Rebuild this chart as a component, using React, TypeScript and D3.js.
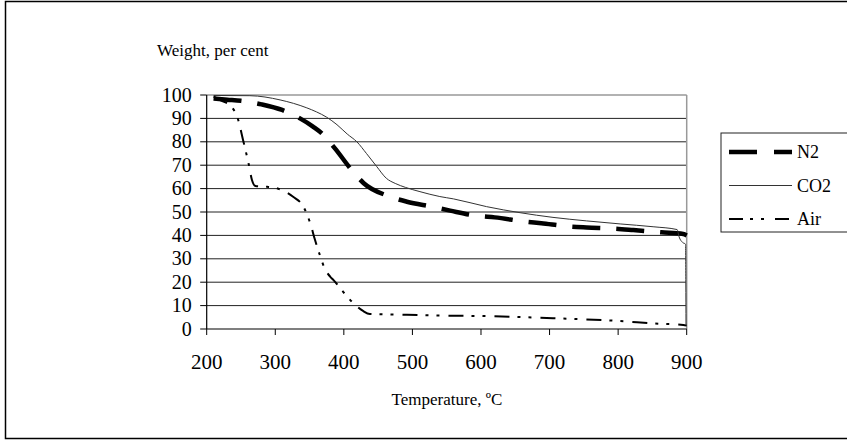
import React from "react";
import * as d3 from "d3";

const xTicks = [200, 300, 400, 500, 600, 700, 800, 900];
const yTicks = [0, 10, 20, 30, 40, 50, 60, 70, 80, 90, 100];

const n2Temp = [210, 230, 250, 280, 310, 336, 355, 368, 387, 411, 429, 465, 492, 530, 555, 596, 620, 662, 688, 730, 754, 795, 822, 863, 895, 900];
const n2Weight = [98.5, 98, 97.5, 96, 93.6, 90, 86.5, 83.6, 77.2, 68.1, 62.3, 56.8, 54.4, 52.2, 50.6, 48.3, 47.7, 46, 45.2, 43.8, 43.4, 42.9, 42.3, 41.3, 40.6, 40];

const co2Temp = [210, 263, 307, 346, 360, 375, 390, 405, 419, 433, 448, 462, 475, 490, 511, 540, 560, 608, 657, 705, 754, 803, 851, 886, 889, 894, 898.4, 898.7, 899];
const co2Weight = [99.8, 99.7, 97.9, 94.5, 92.8, 90.5, 87.3, 83.3, 80, 75, 69.4, 64.4, 62.2, 60.5, 58.7, 56.6, 55.6, 52.3, 49.7, 47.7, 46.2, 44.9, 43.7, 42.5, 39.3, 37, 36.2, 20, 2];

const airTemp = [210, 219, 236, 246, 253, 261, 266, 271, 288, 307, 326, 341, 351, 358, 365, 372, 380, 385, 399, 414, 428, 438, 492, 530, 608, 705, 803, 851, 895, 900];
const airWeight = [99.3, 97.9, 95, 89.3, 80.8, 70.8, 63.7, 61.1, 60.8, 59.7, 56.5, 52.3, 45.2, 38, 31.6, 25.9, 22.4, 20.9, 15.9, 11, 7.7, 6.4, 6.1, 5.8, 5.5, 4.6, 3.4, 2.4, 1.7, 1.5];

const seriesNames = ["N2", "CO2", "Air"];

const W = 847;
const H = 440;
const left = 206.7;
const right = 686.7;
const top = 95;
const bottom = 329;

export default function App() {
  const x = d3.scaleLinear().domain([200, 900]).range([left, right]);
  const y = d3.scaleLinear().domain([0, 100]).range([bottom, top]);
  const line = d3
    .line<[number, number]>()
    .x((d) => x(d[0]))
    .y((d) => y(d[1]))
    .curve(d3.curveMonotoneX);
  const zip = (a: number[], b: number[]) => a.map((v, i) => [v, b[i]] as [number, number]);

  const styles = [
    { stroke: "#000", width: 4.5, dash: "28 16" },
    { stroke: "#333", width: 1, dash: "" },
    { stroke: "#000", width: 2, dash: "15 8 3 8 3 9" },
  ];
  const data = [zip(n2Temp, n2Weight), zip(co2Temp, co2Weight), zip(airTemp, airWeight)];

  const font = "'Liberation Serif', 'Times New Roman', serif";

  return (
    <svg
      width={W}
      height={H}
      style={{ position: "absolute", left: 0, top: 0, background: "#fff" }}
      fontFamily={font}
    >
      <rect x={5.5} y={1.5} width={W + 10} height={437} fill="#fff" stroke="#000" strokeWidth={1.5} />
      {yTicks
        .filter((t) => t > 0 && t < 100)
        .map((t) => (
          <line key={t} x1={left} x2={right} y1={y(t)} y2={y(t)} stroke="#222" strokeWidth={1} />
        ))}
      <line x1={left} x2={right} y1={y(100)} y2={y(100)} stroke="#999" strokeWidth={1.5} />
      <line x1={right} x2={right} y1={top} y2={bottom} stroke="#999" strokeWidth={1.5} />
      {data.map((d, i) => (
        <path
          key={i}
          d={line(d) || ""}
          fill="none"
          stroke={styles[i].stroke}
          strokeWidth={styles[i].width}
          strokeDasharray={styles[i].dash || undefined}
        />
      ))}
      <line x1={left} x2={left} y1={top} y2={bottom} stroke="#000" strokeWidth={1.2} />
      <line x1={left} x2={right} y1={bottom} y2={bottom} stroke="#000" strokeWidth={1.2} />
      {yTicks.map((t) => (
        <g key={t}>
          <line x1={left - 6.5} x2={left} y1={y(t)} y2={y(t)} stroke="#000" strokeWidth={1} />
          <text x={left - 15} y={y(t) + 6.5} textAnchor="end" fontSize={20}>
            {t}
          </text>
        </g>
      ))}
      {xTicks.map((t) => (
        <g key={t}>
          <line x1={x(t)} x2={x(t)} y1={bottom} y2={bottom + 6} stroke="#000" strokeWidth={1} />
          <text x={x(t)} y={369} textAnchor="middle" fontSize={21}>
            {t}
          </text>
        </g>
      ))}
      <text x={157} y={56} fontSize={17}>
        Weight, per cent
      </text>
      <text x={447} y={405} fontSize={17} textAnchor="middle">
        Temperature, ºC
      </text>
      <rect x={721} y={133} width={150} height={99} fill="#fff" stroke="#222" strokeWidth={1} />
      {seriesNames.map((n, i) => {
        const ly = 152 + i * 33.5;
        return (
          <g key={n}>
            <line
              x1={729}
              x2={792}
              y1={ly}
              y2={ly}
              stroke={styles[i].stroke}
              strokeWidth={styles[i].width}
              strokeDasharray={i === 0 ? "28 17" : i === 2 ? "14 7 3 8 3 11" : undefined}
            />
            <text x={797} y={ly + 6} fontSize={18}>
              {n}
            </text>
          </g>
        );
      })}
    </svg>
  );
}
